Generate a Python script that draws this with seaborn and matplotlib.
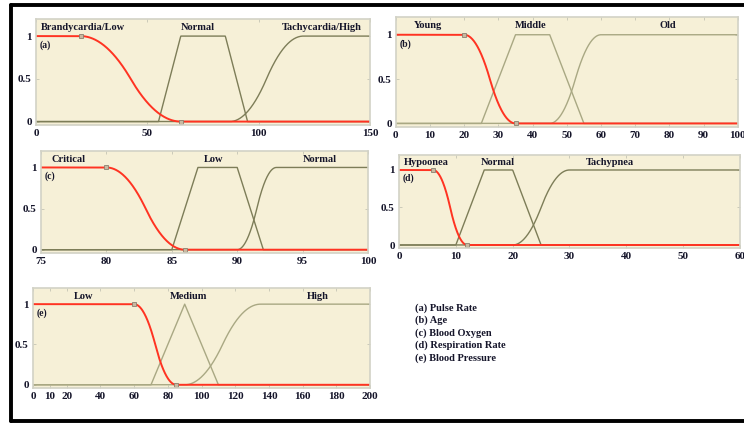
"""Fuzzy membership functions for five vital-sign inputs."""

import matplotlib
matplotlib.use("Agg")

import matplotlib.pyplot as plt  # noqa: E402
import numpy as np  # noqa: E402
import seaborn as sns  # noqa: E402
from matplotlib.lines import Line2D  # noqa: E402

sns.set_theme(style="white")
plt.rcParams["font.family"] = ["Liberation Serif", "DejaVu Serif"]
plt.rcParams["font.weight"] = "bold"

# === Data: membership function break points ===
# (a) Pulse Rate
pulse_range = [0, 150]
pulse_ticks = [0, 50, 100, 150]
pulse_names = ["Brandycardia/Low", "Normal", "Tachycardia/High"]
pulse_low = [20, 65]             # Z-shaped
pulse_normal = [55, 65, 85, 95]  # trapezoid
pulse_high = [87, 120]           # S-shaped

# (b) Age
age_range = [0, 100]
age_ticks = [0, 10, 20, 30, 40, 50, 60, 70, 80, 90, 100]
age_names = ["Young", "Middle", "Old"]
age_young = [20, 35]
age_middle = [25, 35, 45, 55]
age_old = [45, 60]

# (c) Blood Oxygen
oxy_range = [75, 100]
oxy_ticks = [75, 80, 85, 90, 95, 100]
oxy_names = ["Critical", "Low", "Normal"]
oxy_critical = [80, 86]
oxy_low = [85, 87, 90, 92]
oxy_normal = [90, 93]

# (d) Respiration Rate
resp_range = [0, 60]
resp_ticks = [0, 10, 20, 30, 40, 50, 60]
resp_names = ["Hypoonea", "Normal", "Tachypnea"]
resp_hypo = [6, 12]
resp_normal = [10, 15, 20, 25]
resp_tachy = [20, 30]

# (e) Blood Pressure
bp_range = [0, 200]
bp_ticks = [0, 10, 20, 40, 60, 80, 100, 120, 140, 160, 180, 200]
bp_names = ["Low", "Medium", "High"]
bp_low = [60, 85]
bp_medium = [70, 90, 90, 110]    # triangle as a degenerate trapezoid
bp_high = [90, 135]

legend_lines = ["(a) Pulse Rate", "(b) Age", "(c) Blood Oxygen",
                "(d) Respiration Rate", "(e) Blood Pressure"]


def zmf(x, a, b):
    m = (a + b) / 2
    y = np.where(x <= a, 1.0, 0.0)
    left = (x > a) & (x <= m)
    right = (x > m) & (x < b)
    y = np.where(left, 1 - 2 * ((x - a) / (b - a)) ** 2, y)
    y = np.where(right, 2 * ((x - b) / (b - a)) ** 2, y)
    return y


def smf(x, a, b):
    return 1 - zmf(x, a, b)


def trapmf(x, a, b, c, d):
    return np.interp(x, [a, b, c, d], [0, 1, 1, 0], left=0, right=0)


BG = "#F6F0D7"
RED = "#FF3322"
TXT = "#15152a"

fig = plt.figure(figsize=(7.44, 4.23), dpi=100)

panels = [
    # rect, range, ticks, names, low, mid, high, tag, label x centres, olive
    ([0.0484, 0.7045, 0.449, 0.2506], pulse_range, pulse_ticks, pulse_names,
     pulse_low, pulse_normal, pulse_high, "(a)", [21.1, 72.6, 128.4], "#7d7d58"),
    ([0.532, 0.6998, 0.4597, 0.260], age_range, age_ticks, age_names,
     age_young, age_middle, age_old, "(b)", [9.4, 39.4, 79.5], "#a9a883"),
    ([0.0551, 0.4019, 0.4395, 0.2411], oxy_range, oxy_ticks, oxy_names,
     oxy_critical, oxy_low, oxy_normal, "(c)", [77.1, 88.2, 96.3], "#7d7d58"),
    ([0.5363, 0.4137, 0.4583, 0.2199], resp_range, resp_ticks, resp_names,
     resp_hypo, resp_normal, resp_tachy, "(d)", [4.75, 17.3, 37.1], "#7d7d58"),
    ([0.0444, 0.0827, 0.453, 0.2364], bp_range, bp_ticks, bp_names,
     bp_low, bp_medium, bp_high, "(e)", [30.3, 92, 169], "#a9a883"),
]

for rect, xr, ticks, names, low, mid, high, tag, lx, olive in panels:
    ax = fig.add_axes(rect)
    ax.set_facecolor(BG)
    x = np.linspace(xr[0], xr[1], 801)

    sns.lineplot(x=x, y=trapmf(x, *mid), ax=ax, color=olive, linewidth=1.0, sort=False)
    sns.lineplot(x=x, y=smf(x, *high), ax=ax, color=olive, linewidth=1.0, sort=False)
    sns.lineplot(x=x, y=zmf(x, *low), ax=ax, color=RED, linewidth=1.4, sort=False)
    ax.plot(low, [1, 0], linestyle="none", marker="s", markersize=3.5,
            markerfacecolor="#c9b9a0", markeredgecolor="#8a8070", markeredgewidth=0.6)

    ax.set_xlim(xr)
    ax.set_ylim(-0.04, 1.2)
    ax.set_xticks(ticks)
    ax.set_xticklabels([str(t) for t in ticks])
    ax.set_yticks([0, 0.5, 1])
    ax.set_yticklabels(["0", "0.5", "1"])
    ax.tick_params(axis="both", direction="in", length=2.5, width=0.6, color="#c4c4b4",
                   labelsize=8, labelcolor=TXT, pad=3, right=True, top=True,
                   left=True, bottom=True)
    for lab in ax.get_xticklabels() + ax.get_yticklabels():
        lab.set_fontweight("bold")
    for sp in ax.spines.values():
        sp.set_color("#d2d2c6")
        sp.set_linewidth(1.2)
    ax.set_xlabel("")
    ax.set_ylabel("")

    for xpos, name in zip(lx, names):
        ax.text(xpos, 1.1, name, ha="center", va="center", fontsize=7.5,
                fontweight="bold", color=TXT)
    ax.text(xr[0] + (xr[1] - xr[0]) * 0.01, 0.89, tag, ha="left", va="center",
            fontsize=7, fontweight="bold", color=TXT)

for i, line in enumerate(legend_lines):
    fig.text(415 / 744, 1 - (308 + 12.5 * i) / 423, line, ha="left", va="center",
             fontsize=7.5, fontweight="bold", color=TXT)

# black frame (top, left, bottom) like the source screenshot
frame_kw = dict(color="black", linewidth=2.8, transform=fig.transFigure, clip_on=False)
fig.add_artist(Line2D([10.5 / 744, 1.0], [1 - 5.5 / 423, 1 - 5.5 / 423], **frame_kw))
fig.add_artist(Line2D([10.5 / 744, 10.5 / 744], [1 - 5.5 / 423, 1 - 421 / 423], **frame_kw))
fig.add_artist(Line2D([10.5 / 744, 1.0], [1 - 421 / 423, 1 - 421 / 423], **frame_kw))

fig.savefig("out.png", dpi=100)
plt.close(fig)
print("saved out.png")
